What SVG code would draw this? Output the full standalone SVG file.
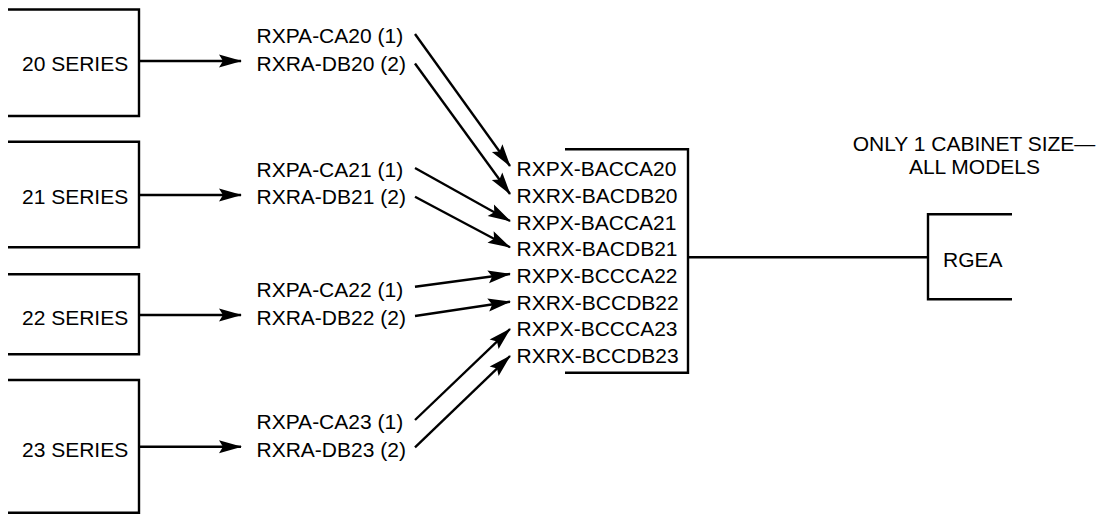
<svg xmlns="http://www.w3.org/2000/svg" width="1096" height="514" viewBox="0 0 1096 514">
<style>
text{font-family:"Liberation Sans",Arial,sans-serif;font-size:21px;fill:#000}
.b{fill:none;stroke:#000;stroke-width:2.4}
.c{fill:none;stroke:#000;stroke-width:2.4}
</style>
<defs>
<marker id="ah" markerUnits="userSpaceOnUse" markerWidth="26" markerHeight="16" refX="22" refY="6.5" orient="auto" overflow="visible">
<path d="M0,0 L23,6.5 L0,13 L4,6.5 Z" fill="#000"/>
</marker>
</defs>
<rect width="1096" height="514" fill="#fff"/>
<g id="s20"><path class="b" d="M8,9.5 H139 V116 H8"/><text x="22" y="71">20 SERIES</text></g>
<g id="s21"><path class="b" d="M8,141.7 H139 V247.3 H8"/><text x="22" y="204">21 SERIES</text></g>
<g id="s22"><path class="b" d="M8,274.3 H139 V354.3 H8"/><text x="22" y="324.5">22 SERIES</text></g>
<g id="s23"><path class="b" d="M8,380 H139 V512.7 H8"/><text x="22" y="456.5">23 SERIES</text></g>
<g id="m20"><text x="256.5" y="43">RXPA-CA20 (1)</text><text x="256.5" y="71">RXRA-DB20 (2)</text></g>
<g id="m21"><text x="256.5" y="176.5">RXPA-CA21 (1)</text><text x="256.5" y="204">RXRA-DB21 (2)</text></g>
<g id="m22"><text x="256.5" y="297">RXPA-CA22 (1)</text><text x="256.5" y="324.5">RXRA-DB22 (2)</text></g>
<g id="m23"><text x="256.5" y="429">RXPA-CA23 (1)</text><text x="256.5" y="456.5">RXRA-DB23 (2)</text></g>
<g id="cabinet"><path class="b" d="M565,149.3 H688 V372.7 H565"/>
<text x="516.5" y="176">RXPX-BACCA20</text>
<text x="516.5" y="203">RXRX-BACDB20</text>
<text x="516.5" y="229.6">RXPX-BACCA21</text>
<text x="516.5" y="256.3">RXRX-BACDB21</text>
<text x="516.5" y="283">RXPX-BCCCA22</text>
<text x="516.5" y="309.6">RXRX-BCCDB22</text>
<text x="516.5" y="336">RXPX-BCCCA23</text>
<text x="516.5" y="362.5">RXRX-BCCDB23</text>
</g>
<g id="rgea"><path class="b" d="M1012,214.3 H928 V299.3 H1012"/><text x="943" y="266.7">RGEA</text></g>
<g id="note"><text x="974" y="150.7" text-anchor="middle">ONLY 1 CABINET SIZE—</text><text x="974.5" y="174" text-anchor="middle">ALL MODELS</text></g>
<g id="connectors" class="c" marker-end="url(#ah)">
<line x1="139" y1="61" x2="241" y2="61"/>
<line x1="139" y1="195" x2="241" y2="195"/>
<line x1="139" y1="315" x2="241" y2="315"/>
<line x1="139" y1="446.7" x2="241" y2="446.7"/>
<line x1="415" y1="34" x2="510" y2="166"/>
<line x1="415" y1="63.5" x2="510" y2="194"/>
<line x1="415" y1="168" x2="510" y2="221"/>
<line x1="415" y1="196.7" x2="510" y2="247.3"/>
<line x1="415" y1="286.7" x2="510" y2="274"/>
<line x1="415" y1="316" x2="510" y2="301.7"/>
<line x1="415" y1="420" x2="510" y2="329"/>
<line x1="415" y1="447.3" x2="510" y2="356"/>
<line x1="688" y1="257.3" x2="928" y2="257.3" marker-end="none"/>
</g>
</svg>
